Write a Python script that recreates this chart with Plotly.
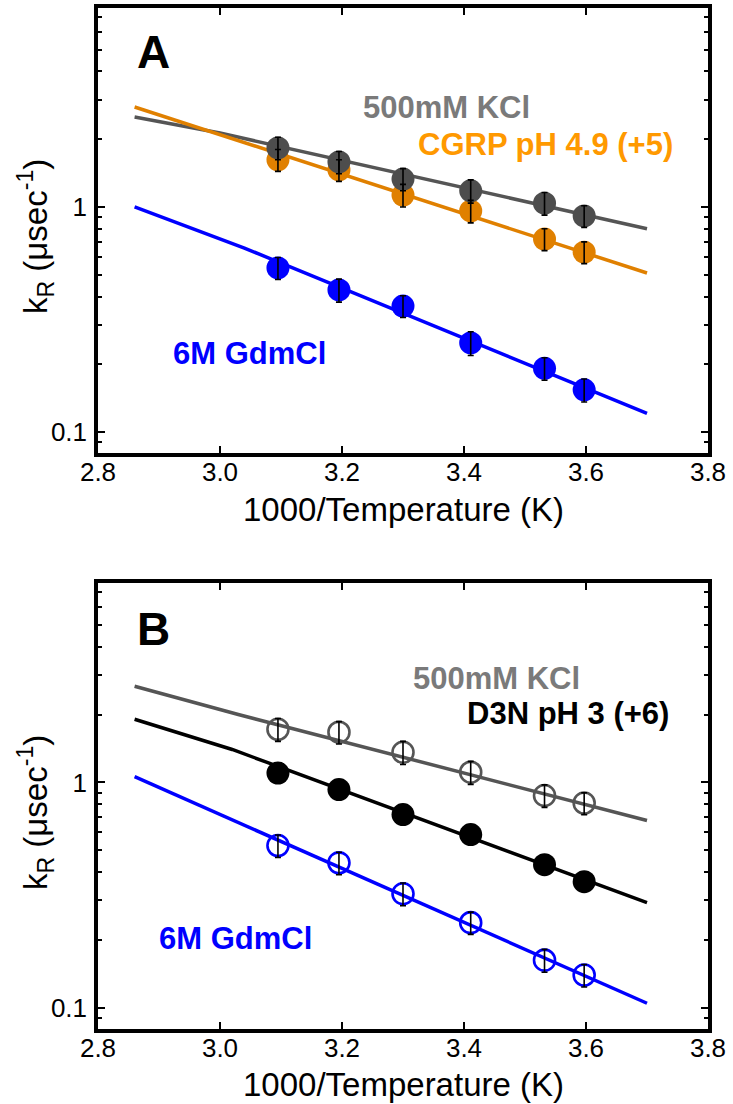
import plotly.graph_objects as go

W, H = 733, 1104

# ---------------- data ----------------
inv_T = [3.095, 3.195, 3.300, 3.411, 3.532, 3.597]

# Panel A
a_kcl = [1.83, 1.585, 1.33, 1.18, 1.04, 0.912]
a_kcl_err = [0.21, 0.18, 0.15, 0.14, 0.12, 0.10]
a_cgrp = [1.62, 1.46, 1.13, 0.96, 0.72, 0.63]
a_cgrp_err = [0.18, 0.16, 0.13, 0.11, 0.08, 0.07]
a_gdm = [0.536, 0.428, 0.363, 0.249, 0.192, 0.154]
a_gdm_err = [0.06, 0.05, 0.04, 0.03, 0.022, 0.018]

a_kcl_fit_x = [2.86, 3.0, 3.70]
a_kcl_fit_y = [2.51, 2.13, 0.80]
a_cgrp_fit_x = [2.86, 3.70]
a_cgrp_fit_y = [2.78, 0.509]
a_gdm_fit_x = [2.86, 3.04, 3.70]
a_gdm_fit_y = [1.0, 0.657, 0.121]

# Panel B
b_kcl = [1.72, 1.67, 1.36, 1.11, 0.875, 0.81]
b_kcl_err = [0.20, 0.19, 0.16, 0.13, 0.10, 0.09]
b_d3n = [1.10, 0.93, 0.72, 0.587, 0.432, 0.363]
b_gdm = [0.525, 0.44, 0.321, 0.239, 0.163, 0.14]
b_gdm_err = [0.06, 0.05, 0.037, 0.027, 0.019, 0.016]

b_kcl_fit_x = [2.86, 3.03, 3.70]
b_kcl_fit_y = [2.67, 2.0, 0.678]
b_d3n_fit_x = [2.86, 3.02, 3.70]
b_d3n_fit_y = [1.905, 1.40, 0.293]
b_gdm_fit_x = [2.86, 3.70]
b_gdm_fit_y = [1.06, 0.105]

x_ticks = [2.8, 3.0, 3.2, 3.4, 3.6, 3.8]
x_ticktext = ["2.8", "3.0", "3.2", "3.4", "3.6", "3.8"]
y_ticks = [0.1, 1]
y_ticktext = ["0.1", "1"]
y_minor = [0.09, 0.2, 0.3, 0.4, 0.5, 0.6, 0.7, 0.8, 0.9, 2, 3, 4, 5, 6, 7]

x_title = "1000/Temperature (K)"
y_title = "k<sub>R</sub> (\u03bcsec<sup>-1</sup>)"

# ---------------- styles ----------------
GRAY_LINE = "#555555"
GRAY_FILL = "#4d4d4d"
GRAY_LABEL = "#7a7a7a"
ORANGE = "#e08000"
ORANGE_LABEL = "#ff9900"
BLUE = "#0000ff"
BLACK = "#000000"
FONT = "Liberation Sans, Arial, Helvetica, sans-serif"

fig = go.Figure()


def line(xs, ys, color, ax, width=3.5):
    fig.add_trace(go.Scatter(x=xs, y=ys, mode="lines", line=dict(color=color, width=width),
                             xaxis=ax[0], yaxis=ax[1], showlegend=False, hoverinfo="skip"))


def pts(ys, color, ax, open_=False):
    if open_:
        marker = dict(symbol="circle-open", size=21, color=color, line=dict(color=color, width=2.6))
    else:
        marker = dict(symbol="circle", size=23, color=color, line=dict(width=0))
    fig.add_trace(go.Scatter(x=inv_T, y=ys, mode="markers", marker=marker,
                             xaxis=ax[0], yaxis=ax[1], showlegend=False))


def errs(ys, es, ax):
    fig.add_trace(go.Scatter(x=inv_T, y=ys, mode="markers",
                             marker=dict(size=1, color="rgba(0,0,0,0)"),
                             error_y=dict(type="data", array=es, color=BLACK, thickness=1.6, width=3),
                             xaxis=ax[0], yaxis=ax[1], showlegend=False, hoverinfo="skip"))


A = ("x", "y")
B = ("x2", "y2")

# Panel A
line(a_kcl_fit_x, a_kcl_fit_y, GRAY_LINE, A)
line(a_cgrp_fit_x, a_cgrp_fit_y, ORANGE, A)
line(a_gdm_fit_x, a_gdm_fit_y, BLUE, A)
pts(a_cgrp, ORANGE, A)
pts(a_kcl, GRAY_FILL, A)
pts(a_gdm, BLUE, A)
errs(a_cgrp, a_cgrp_err, A)
errs(a_kcl, a_kcl_err, A)
errs(a_gdm, a_gdm_err, A)

# Panel B
line(b_kcl_fit_x, b_kcl_fit_y, GRAY_LINE, B)
line(b_d3n_fit_x, b_d3n_fit_y, BLACK, B)
line(b_gdm_fit_x, b_gdm_fit_y, BLUE, B)
pts(b_kcl, GRAY_LINE, B, open_=True)
pts(b_d3n, BLACK, B)
pts(b_gdm, BLUE, B, open_=True)
errs(b_kcl, b_kcl_err, B)
errs(b_gdm, b_gdm_err, B)

# ---------------- layout ----------------
L, R = 98, 708
A_top, A_bot = 8, 453
B_top, B_bot = 583, 1029


def px_x(p):
    return p / W


def px_y(p):
    return 1 - p / H


xaxis_common = dict(range=[2.8, 3.8], tickvals=x_ticks, ticktext=x_ticktext,
                    showline=True, linewidth=3.5, linecolor=BLACK, mirror="ticks",
                    ticks="inside", ticklen=7, tickwidth=2, tickcolor=BLACK,
                    showgrid=False, zeroline=False, automargin=False,
                    tickfont=dict(family=FONT, size=26, color=BLACK),
                    ticklabelstandoff=-7,
                    domain=[px_x(L), px_x(R)])

yaxis_common = dict(type="log", range=[-1.093, 0.884], tickvals=y_ticks, ticktext=y_ticktext,
                    showline=True, linewidth=3.5, linecolor=BLACK, mirror="ticks",
                    ticks="inside", ticklen=7, tickwidth=2, tickcolor=BLACK,
                    minor=dict(tickmode="array", tickvals=y_minor, ticks="inside", ticklen=4,
                               tickwidth=1.5, tickcolor=BLACK, showgrid=False),
                    showgrid=False, zeroline=False, automargin=False,
                    tickfont=dict(family=FONT, size=26, color=BLACK),
                    ticklabelstandoff=2)

fig.update_layout(
    width=W, height=H,
    margin=dict(l=0, r=0, t=0, b=0, pad=0),
    paper_bgcolor="white", plot_bgcolor="white",
    showlegend=False,
    xaxis=dict(**xaxis_common, anchor="y"),
    yaxis=dict(**yaxis_common, anchor="x", domain=[px_y(A_bot), px_y(A_top)]),
    xaxis2=dict(**xaxis_common, anchor="y2"),
    yaxis2=dict(**yaxis_common, anchor="x2", domain=[px_y(B_bot), px_y(B_top)]),
)


def label(text, cx, cy, color, size=31, bold=True, angle=0):
    fig.add_annotation(text=("<b>" + text + "</b>") if bold else text,
                       x=px_x(cx), y=px_y(cy), xref="paper", yref="paper",
                       showarrow=False, xanchor="center", yanchor="middle", textangle=angle,
                       font=dict(family=FONT, size=size, color=color))


# axis titles
label(x_title, 403, 510, BLACK, size=33, bold=False)
label(x_title, 403, 1084, BLACK, size=33, bold=False)
label(y_title, 35, 237, BLACK, size=33, bold=False, angle=-90)
label(y_title, 35, 813, BLACK, size=33, bold=False, angle=-90)

# in-plot labels
label("A", 153, 52, BLACK, size=46)
label("500mM KCl", 446, 107, GRAY_LABEL)
label("CGRP pH 4.9 (+5)", 545, 145, ORANGE_LABEL)
label("6M GdmCl", 249, 353, BLUE)

label("B", 153, 629, BLACK, size=46)
label("500mM KCl", 496, 678, GRAY_LABEL)
label("D3N pH 3 (+6)", 568, 713, BLACK)
label("6M GdmCl", 235, 939, BLUE)

fig.write_html(
    "out.html",
    config={"displayModeBar": False},
    post_script="document.body.style.margin='0';document.body.style.padding='0';"
                "document.body.style.overflow='hidden';",
)
